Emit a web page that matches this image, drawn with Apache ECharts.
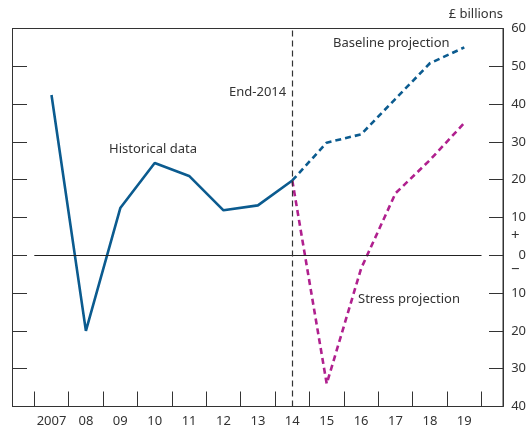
<!DOCTYPE html>
<html>
<head>
<meta charset="utf-8">
<script src="https://cdn.jsdelivr.net/npm/echarts@6/dist/echarts.min.js"></script>
<style>
html, body { margin: 0; padding: 0; background: #fff; }
#chart { width: 532px; height: 430px; }
</style>
</head>
<body>
<div id="chart"></div>
<script>
// 数据
var years = ['2007', '08', '09', '10', '11', '12', '13', '14', '15', '16', '17', '18', '19'];
var historical = [42.4, -20, 12.5, 24.4, 21, 11.9, 13.2, 19.8];
var baseline = [19.8, 29.8, 32, 41.4, 50.8, 55];
var stress = [19.8, -34, -3.5, 16.4, 25.2, 35];
var yTicks = [-40, -30, -20, -10, 0, 10, 20, 30, 40, 50, 60];

function pad(vals, start) {
	var out = [];
	for (var i = 0; i < years.length; i++) {
		var j = i - start;
		out.push(j >= 0 && j < vals.length ? vals[j] : null);
	}
	return out;
}

var font = 'Noto Sans';
var txt = '#333';
var blue = '#0b5b8f';
var pink = '#b0208e';

var boxGrid = { left: 12, right: 29, top: 28.5, bottom: 23.5, outerBoundsMode: 'none', containLabel: false };

var myChart = echarts.init(document.getElementById('chart'));
option = {
	animation: false,
	textStyle: { fontFamily: font },
	grid: [
		{ left: 34.3, right: 50.5, top: 28.5, bottom: 23.5, outerBoundsMode: 'none', containLabel: false },
		boxGrid,
		echarts.util.clone(boxGrid)
	],
	xAxis: [{
		type: 'category',
		gridIndex: 0,
		data: years,
		boundaryGap: true,
		axisLine: { show: false, onZero: false },
		axisTick: { show: true, inside: true, length: 15, lineStyle: { color: '#333' } },
		axisLabel: { color: txt, fontSize: 13, margin: 8, fontFamily: font, interval: 0 }
	}, {
		type: 'value', gridIndex: 1, show: false
	}, {
		type: 'value', gridIndex: 2, show: false
	}],
	yAxis: [{
		type: 'value',
		gridIndex: 0,
		min: yTicks[0],
		max: yTicks[yTicks.length - 1],
		interval: 10,
		show: false
	}, {
		type: 'value',
		gridIndex: 1,
		position: 'left',
		min: yTicks[0],
		max: yTicks[yTicks.length - 1],
		interval: 10,
		axisLine: { show: true, onZero: false, lineStyle: { color: '#333', width: 1 } },
		splitLine: { show: false },
		axisTick: { show: true, inside: true, length: 15, lineStyle: { color: '#333' } },
		axisLabel: { show: false }
	}, {
		type: 'value',
		gridIndex: 2,
		position: 'right',
		min: yTicks[0],
		max: yTicks[yTicks.length - 1],
		interval: 10,
		axisLine: { show: true, onZero: false, lineStyle: { color: '#333', width: 1 } },
		splitLine: { show: false },
		axisTick: { show: true, inside: true, length: 14, lineStyle: { color: '#333' } },
		axisLabel: {
			color: txt, fontSize: 13, fontFamily: font, align: 'right', margin: 23,
			formatter: function (v) { return String(Math.abs(v)); }
		}
	}],
	series: [{
		name: 'Historical data',
		type: 'line',
		data: pad(historical, 0),
		symbol: 'none',
		lineStyle: { color: blue, width: 2.6 },
		markLine: {
			silent: true,
			symbol: 'none',
			label: { show: false },
			data: [
				{ yAxis: 0, lineStyle: { color: '#222', width: 1.2, type: 'solid' } },
				{ xAxis: '14', lineStyle: { color: '#333', width: 1.2, type: [6, 4] } }
			]
		},
		z: 3
	}, {
		name: 'Baseline projection',
		type: 'line',
		data: pad(baseline, 7),
		symbol: 'none',
		lineStyle: { color: blue, width: 2.6, type: [6, 4] },
		z: 3
	}, {
		name: 'Stress projection',
		type: 'line',
		data: pad(stress, 7),
		symbol: 'none',
		lineStyle: { color: pink, width: 2.6, type: [6, 4] },
		z: 2
	}],
	graphic: [
		{ type: 'line', shape: { x1: 12, y1: 28.5, x2: 503, y2: 28.5 }, style: { stroke: '#333', lineWidth: 1 } },
		{ type: 'line', shape: { x1: 12, y1: 406.5, x2: 503, y2: 406.5 }, style: { stroke: '#333', lineWidth: 1 } },
		{ type: 'line', shape: { x1: 503, y1: 28.5, x2: 503, y2: 406.5 }, style: { stroke: '#333', lineWidth: 1 } },
		{ type: 'text', right: 29, top: 8, style: { text: '£ billions', fill: txt, font: '13px "Noto Sans"' } },
		{ type: 'text', left: 333, top: 37, style: { text: 'Baseline projection', fill: txt, font: '13px "Noto Sans"' } },
		{ type: 'text', left: 229, top: 86, style: { text: 'End-2014', fill: txt, font: '13px "Noto Sans"' } },
		{ type: 'text', left: 109, top: 143, style: { text: 'Historical data', fill: txt, font: '13px "Noto Sans"' } },
		{ type: 'text', left: 358, top: 293, style: { text: 'Stress projection', fill: txt, font: '13px "Noto Sans"' } },
		{ type: 'text', left: 511, top: 228, style: { text: '+', fill: txt, font: '15px "Noto Sans"' } },
		{ type: 'text', left: 511, top: 262, style: { text: '−', fill: txt, font: '15px "Noto Sans"' } }
	]
};
myChart.setOption(option);
</script>
</body>
</html>
